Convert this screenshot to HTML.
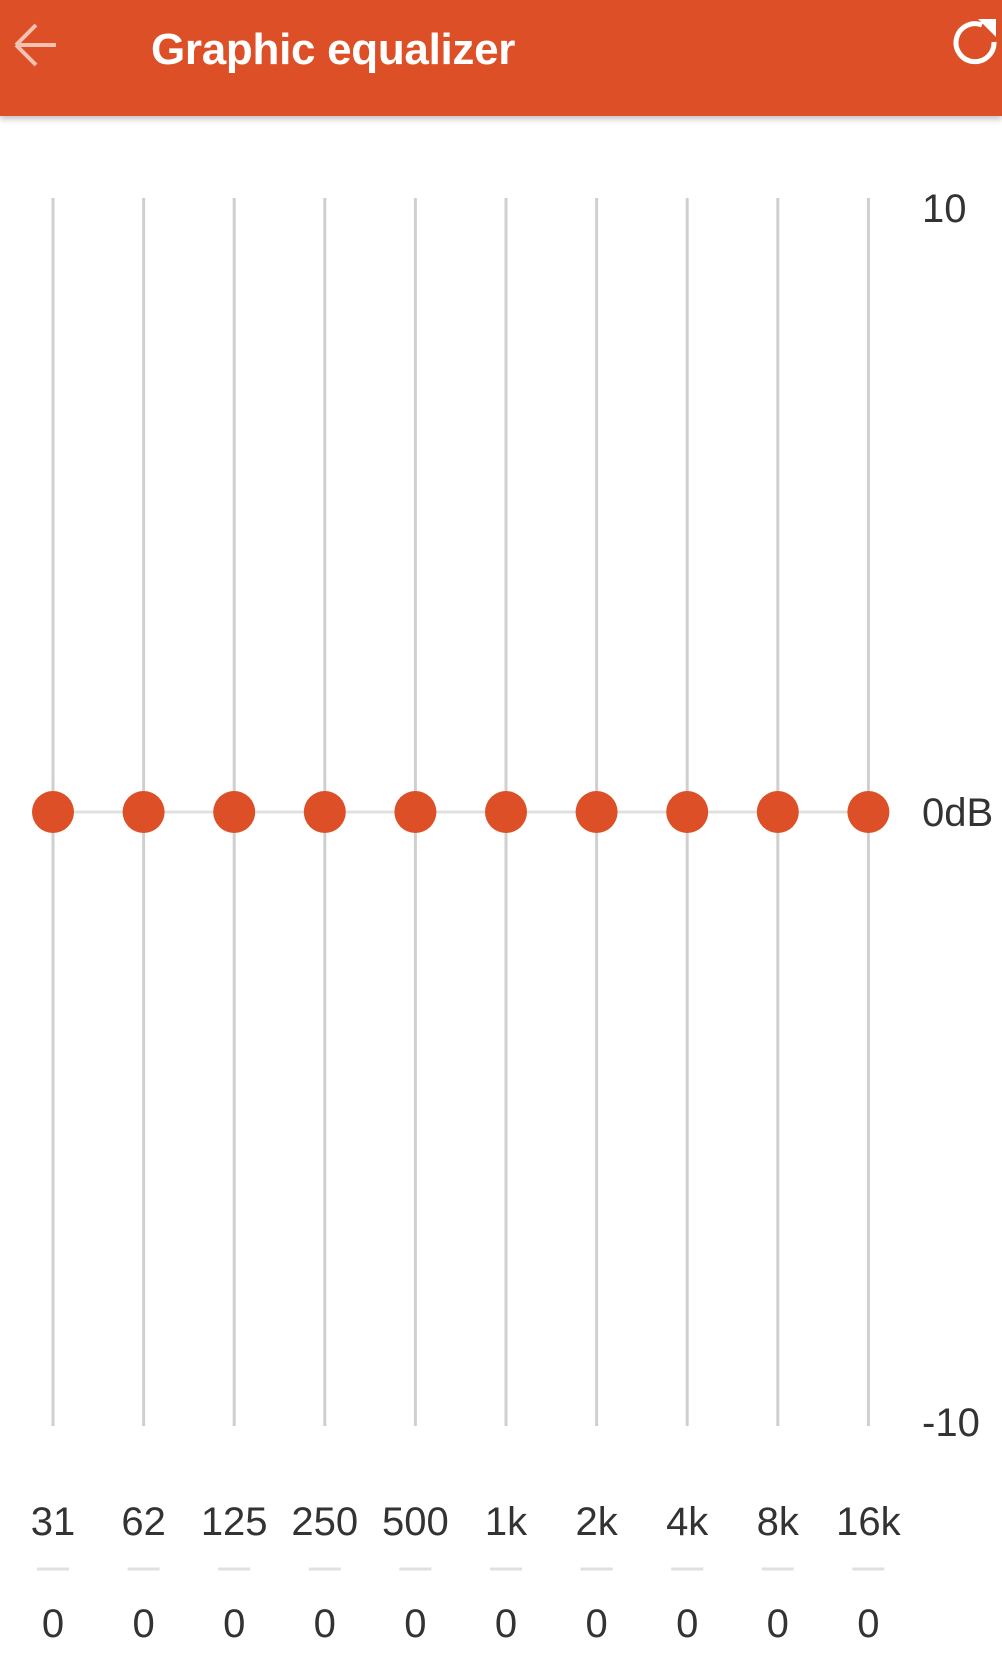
<!DOCTYPE html>
<html><head><meta charset="utf-8"><style>
html,body{margin:0;padding:0;background:#fff;width:1002px;height:1653px;overflow:hidden;font-family:"Liberation Sans",sans-serif}
#hdr{position:absolute;left:0;top:0;width:1002px;height:116px;background:#dd4f26;box-shadow:0 3px 6px rgba(0,0,0,0.25)}
#title{position:absolute;left:151px;top:25px;color:#fff;font-size:44px;font-weight:bold;letter-spacing:-0.3px}
svg{position:absolute;left:0;top:0}
</style></head><body>
<div id="hdr">
  <svg width="80" height="90" style="left:0;top:0">
    <path d="M16 45 H56 M16 45 L36 25 M16 45 L36 65" stroke="#f3c2b2" stroke-width="4" fill="none"/>
  </svg>
  <div id="title">Graphic equalizer</div>
  <svg width="60" height="90" style="left:950px;top:0">
    <path d="M32 25 A19 19 0 1 0 44 42" stroke="#fff" stroke-width="5" fill="none"/>
    <path d="M28 19 L46 19 L46 37 Z" fill="#fff"/>
  </svg>
</div>
<svg id="chart" width="1002" height="1653"></svg>
<script>
const bands=["31","62","125","250","500","1k","2k","4k","8k","16k"];
const gains=[0,0,0,0,0,0,0,0,0,0];
const yTicks=[10,0,-10];
const yTickLabels=["10","0dB","-10"];
const NS="http://www.w3.org/2000/svg";
const svg=document.getElementById('chart');
const x0=53,dx=90.6,yTop=198,yBot=1426;
function xs(i){return x0+i*dx;}
function ys(v){return yTop+(10-v)/20*(yBot-yTop);}
function mk(t,a){const e=document.createElementNS(NS,t);for(const k in a)e.setAttribute(k,a[k]);svg.appendChild(e);return e;}
const zl=mk('line',{x1:xs(0),x2:xs(bands.length-1),y1:ys(0),y2:ys(0),stroke:'#e0e0e0','stroke-width':3});


bands.forEach((b,i)=>{
  const l=mk('line',{x1:xs(i),x2:xs(i),y1:ys(10),y2:ys(-10),stroke:'#cfcfcf','stroke-width':3});
  
  
  const c=mk('circle',{cx:xs(i),cy:ys(gains[i]),r:21,fill:'#dd4f26'});
  
  
  const t=mk('text',{x:xs(i),y:1535,'text-anchor':'middle','font-size':40,fill:'#333','font-family':'Liberation Sans, sans-serif'});
  t.textContent=b;
  
  
  const d=mk('line',{x1:xs(i)-16,x2:xs(i)+16,y1:1569,y2:1569,stroke:'#e0e0e0','stroke-width':3});
  
  
  const v=mk('text',{x:xs(i),y:1637,'text-anchor':'middle','font-size':40,fill:'#333','font-family':'Liberation Sans, sans-serif'});
  v.textContent=String(gains[i]);
  
  
});
const yOff=[24,14,10];
yTicks.forEach((v,i)=>{
  const t=mk('text',{x:922,y:ys(v)+yOff[i],'font-size':40,fill:'#333','font-family':'Liberation Sans, sans-serif'});
  t.textContent=yTickLabels[i];
  
  
});
</script>
</body></html>
